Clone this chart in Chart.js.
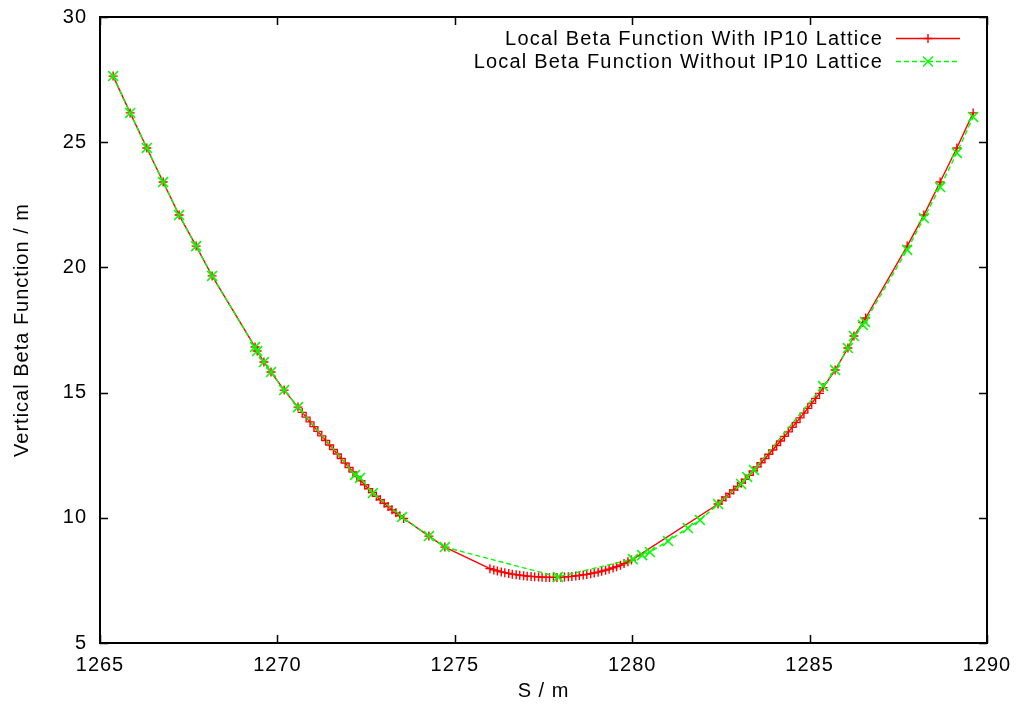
<!DOCTYPE html>
<html><head><meta charset="utf-8">
<style>html,body{margin:0;padding:0;background:#fff;}</style>
<script src="https://cdn.jsdelivr.net/npm/chart.js@4/dist/chart.umd.min.js"></script>
</head><body>
<canvas id="c" width="1021" height="713"></canvas>
<script>
// ---- data ----
const withS = [1265.37,1265.85,1266.32,1266.78,1267.23,1267.71,1268.16,1269.37,1269.43,1269.62,1269.82,1270.19,1270.58,
1270.70,1270.81,1270.92,1271.03,1271.14,1271.25,1271.36,1271.47,1271.58,1271.69,1271.80,1271.91,1272.02,1272.13,1272.24,1272.35,1272.46,1272.57,1272.68,1272.79,1272.90,1273.01,1273.12,1273.23,1273.34,1273.45,1273.56,
1274.27,1274.72,
1275.99,1276.10,1276.20,1276.31,1276.41,1276.52,1276.62,1276.73,1276.83,1276.94,1277.04,1277.15,1277.25,1277.36,1277.46,1277.57,1277.67,1277.78,1277.88,1277.99,1278.09,1278.20,1278.30,1278.41,1278.51,1278.62,1278.72,1278.83,1278.93,1279.04,1279.14,1279.25,1279.35,1279.46,1279.56,1279.67,1279.77,1279.88,1279.98,
1282.42,1282.53,1282.64,1282.75,1282.86,1282.97,1283.08,1283.19,1283.30,1283.41,1283.52,1283.63,1283.74,1283.85,1283.96,1284.07,1284.18,1284.29,1284.40,1284.51,1284.62,1284.73,1284.84,1284.95,1285.06,1285.17,1285.28,1285.38,
1285.72,1286.08,1286.25,1286.50,1286.58,1287.75,1288.22,1288.68,1289.15,1289.61];
const withBeta = [27.64,26.17,24.77,23.41,22.09,20.85,19.66,16.82,16.66,16.22,15.82,15.10,14.42,
14.21,14.02,13.83,13.64,13.45,13.27,13.09,12.91,12.73,12.55,12.37,12.19,12.01,11.83,11.65,11.48,11.32,11.16,11.01,10.86,10.72,10.58,10.45,10.32,10.20,10.08,9.97,
9.27,8.83,
7.97,7.92,7.88,7.84,7.81,7.78,7.75,7.73,7.71,7.69,7.67,7.66,7.65,7.64,7.63,7.62,7.62,7.62,7.62,7.63,7.64,7.65,7.66,7.68,7.70,7.72,7.74,7.77,7.80,7.83,7.87,7.91,7.95,8.00,8.05,8.11,8.17,8.24,8.31,
10.55,10.69,10.83,10.97,11.11,11.25,11.39,11.54,11.70,11.87,12.03,12.20,12.37,12.54,12.71,12.89,13.07,13.25,13.43,13.61,13.80,13.99,14.18,14.37,14.57,14.77,14.97,15.20,
15.90,16.78,17.26,17.80,17.98,20.85,22.09,23.41,24.77,26.17];
const withoutS = [1265.37,1265.85,1266.32,1266.78,1267.23,1267.71,1268.16,1269.37,1269.43,1269.62,1269.82,1270.19,1270.58,1272.19,1272.33,1272.69,1273.51,1274.27,1274.72,1277.91,1280.02,1280.28,1280.50,1281.01,1281.57,1281.91,1282.42,1283.07,1283.24,1283.43,1285.38,1285.72,1286.08,1286.25,1286.50,1286.56,1287.75,1288.22,1288.68,1289.15,1289.61];
const withoutBeta = [27.64,26.17,24.77,23.41,22.09,20.85,19.66,16.82,16.66,16.22,15.82,15.10,14.42,11.71,11.59,10.99,10.03,9.27,8.83,7.64,8.35,8.51,8.63,9.07,9.59,9.91,10.55,11.35,11.63,11.91,15.26,15.90,16.78,17.26,17.70,17.82,20.70,21.97,23.21,24.57,26.01];
const xTicks = [1265,1270,1275,1280,1285,1290];
const yTicks = [5,10,15,20,25,30];
const seriesLabels = ['Local Beta Function With IP10 Lattice','Local Beta Function Without IP10 Lattice'];
const xTitle = 'S / m';
const yTitle = 'Vertical Beta Function / m';

const FONT = "'Liberation Sans', Arial, sans-serif";
const toPts = (xs, ys) => xs.map((x, i) => ({x: x, y: ys[i]}));

const framePlugin = {
  id: 'frame',
  beforeDraw(chart) { chart.ctx.letterSpacing = '1px'; },
  afterDatasetsDraw(chart) {
    const ctx = chart.ctx, a = chart.chartArea;
    const xs = chart.scales.x, ys = chart.scales.y;
    ctx.save();
    ctx.strokeStyle = '#000';
    ctx.lineWidth = 1.5;
    const tl = 8;
    ctx.beginPath();
    xTicks.forEach(v => {
      const p = Math.round(xs.getPixelForValue(v)) + 0.5;
      ctx.moveTo(p, a.bottom); ctx.lineTo(p, a.bottom - tl);
      ctx.moveTo(p, a.top); ctx.lineTo(p, a.top + tl);
    });
    yTicks.forEach(v => {
      const p = Math.round(ys.getPixelForValue(v)) + 0.5;
      ctx.moveTo(a.left, p); ctx.lineTo(a.left + tl, p);
      ctx.moveTo(a.right, p); ctx.lineTo(a.right - tl, p);
    });
    ctx.stroke();
    ctx.lineWidth = 2;
    ctx.strokeRect(a.left, a.top, a.right - a.left, a.bottom - a.top);

    // legend (gnuplot style: text then sample)
    ctx.letterSpacing = '1.2px';
    ctx.font = '20px ' + FONT;
    ctx.fillStyle = '#000';
    ctx.textAlign = 'right';
    ctx.textBaseline = 'middle';
    const rows = [a.top + 21, a.top + 44];
    const x0 = a.right - 91, x1 = a.right - 27, tx = a.right - 104;
    const ds = chart.data.datasets;
    rows.forEach((y, i) => {
      ctx.fillText(seriesLabels[i], tx, y + 1);
      const d = ds[i];
      ctx.strokeStyle = d.borderColor;
      ctx.lineWidth = d.borderWidth;
      ctx.setLineDash(d.borderDash || []);
      ctx.beginPath(); ctx.moveTo(x0, y + 0.5); ctx.lineTo(x1, y + 0.5); ctx.stroke();
      ctx.setLineDash([]);
      Chart.helpers.drawPoint(ctx, {pointStyle: d.pointStyle, radius: d.pointRadius, rotation: 0, borderWidth: d.pointBorderWidth}, (x0 + x1) / 2, y + 0.5);
    });
    ctx.restore();
  }
};

new Chart(document.getElementById('c'), {
  type: 'line',
  data: {
    datasets: [
      {label: seriesLabels[0], data: toPts(withS, withBeta), borderColor: '#ff0000', backgroundColor: '#ff0000',
       borderWidth: 1.4, pointStyle: 'cross', pointRadius: 4.5, pointBorderWidth: 1.4, pointBorderColor: '#ff0000', tension: 0, order: 2},
      {label: seriesLabels[1], data: toPts(withoutS, withoutBeta), borderColor: '#00ff00', backgroundColor: '#00ff00',
       borderWidth: 1.4, borderDash: [5, 3], pointStyle: 'crossRot', pointRadius: 7, pointBorderWidth: 1.6, pointBorderColor: '#00ff00', tension: 0, order: 1}
    ]
  },
  options: {
    responsive: false,
    animation: false,
    events: [],
    layout: {padding: {left: 0, right: 34, top: 17, bottom: 0}},
    plugins: {legend: {display: false}, tooltip: {enabled: false}},
    scales: {
      x: {
        type: 'linear', min: 1265, max: 1290,
        afterBuildTicks: s => { s.ticks = xTicks.map(v => ({value: v})); },
        afterFit: s => { s.height = 70; s.paddingLeft = 0; s.paddingRight = 0; },
        grid: {display: false, drawTicks: false},
        border: {display: false},
        ticks: {font: {family: FONT, size: 20}, color: '#000', padding: 10, maxRotation: 0, callback: v => String(v)},
        title: {display: true, text: xTitle, font: {family: FONT, size: 20}, color: '#000', padding: {top: 10, bottom: 10}}
      },
      y: {
        type: 'linear', min: 5, max: 30,
        afterBuildTicks: s => { s.ticks = yTicks.map(v => ({value: v})); },
        afterFit: s => { s.width = 100; s.paddingTop = 0; s.paddingBottom = 0; },
        grid: {display: false, drawTicks: false},
        border: {display: false},
        ticks: {font: {family: FONT, size: 20}, color: '#000', padding: 13, callback: v => String(v)},
        title: {display: true, text: yTitle, font: {family: FONT, size: 20}, color: '#000', padding: {top: 10, bottom: 10}}
      }
    }
  },
  plugins: [framePlugin]
});
</script>
</body></html>
